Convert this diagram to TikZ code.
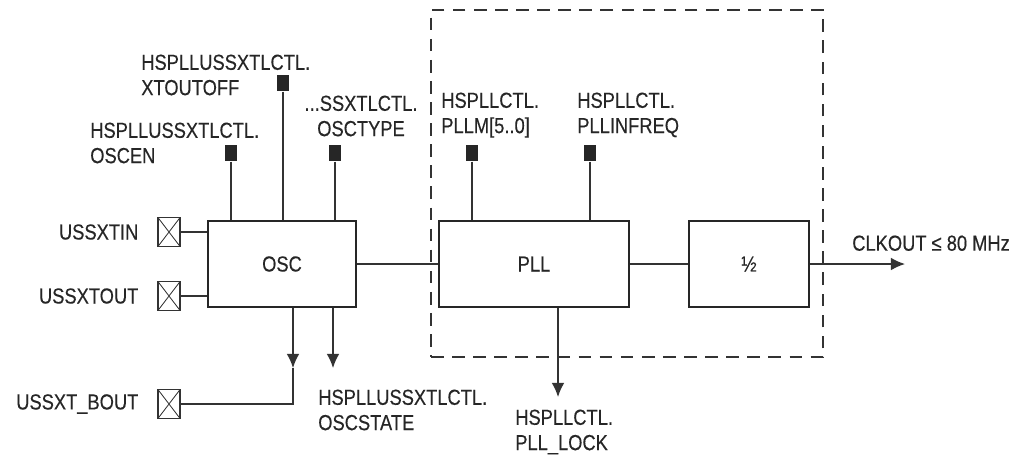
\documentclass[tikz,border=0pt]{standalone}
\usepackage{fontspec}
\setmainfont{Liberation Sans}[FakeStretch=0.84, FakeBold=0.3]
\usetikzlibrary{positioning, arrows.meta}

\begin{document}
\begin{tikzpicture}[
    x=0.025cm, y=-0.025cm,
    every node/.style={font=\fontsize{15.5}{18}\selectfont, text=black!85},
    block/.style={draw=black!85, line width=1.5pt, minimum height=2.15cm, inner sep=0pt},
    padbox/.style={draw=black!80, line width=0.8pt, minimum width=0.55cm, minimum height=0.72cm, inner sep=0pt,
        path picture={\draw[line width=0.6pt, black!80] (path picture bounding box.south west) -- (path picture bounding box.north east)
            (path picture bounding box.north west) -- (path picture bounding box.south east);}},
    ctrl/.style={fill=black!85, minimum width=0.32cm, minimum height=0.42cm, inner sep=0pt},
    lbl/.style={inner sep=0pt, align=left},
    wire/.style={line width=1pt, draw=black!80},
    signal/.style={wire, -{Latex[length=10pt, width=9pt]}},
    pllgroup/.style={draw=black!80, line width=1pt, dash pattern=on 9pt off 6pt, inner sep=0pt},
]
    \useasboundingbox (0,0) rectangle (1017,456);

    % PLL group (dashed)
    \node[pllgroup, minimum width=9.8cm, minimum height=8.675cm] (grp) at (627,183.5) {};

    % Blocks
    \node[block, minimum width=3.7cm] (osc) at (282,264) {OSC};
    \node[block, minimum width=4.75cm] (pll) at (534,264) {PLL};
    \node[block, minimum width=3cm] (half) at (749,264) {½};

    % Pads
    \node[padbox] (xin) at (169,232) {};
    \node[padbox] (xout) at (169,296) {};
    \node[padbox] (bout) at (169,404) {};
    \node[lbl, left=0.47cm of xin] (lxin) {USSXTIN};
    \node[lbl, left=0.47cm of xout] (lxout) {USSXTOUT};
    \node[lbl, left=0.47cm of bout] (lbout) {USSXT\_BOUT};

    % Control bits
    \node[ctrl] (cen) at (231,153) {};
    \node[ctrl] (coff) at (283,83) {};
    \node[ctrl] (ctype) at (335,153) {};
    \node[ctrl] (cpllm) at (472,153) {};
    \node[ctrl] (cinfreq) at (590,153) {};

    \node[lbl, anchor=north west] (lcen) at (90,122.3) {HSPLLUSSXTLCTL.\\OSCEN};
    \node[lbl, anchor=north west] (lcoff) at (141,54.3) {HSPLLUSSXTLCTL.\\XTOUTOFF};
    \node[lbl, align=center, anchor=north] (lctype) at (361,95.3) {...SSXTLCTL.\\OSCTYPE};
    \node[lbl, anchor=north west] (lpllm) at (441,92.3) {HSPLLCTL.\\PLLM[5..0]};
    \node[lbl, anchor=north west] (linfreq) at (577,92.3) {HSPLLCTL.\\PLLINFREQ};

    % Outputs
    \coordinate (bj) at (293,368);
    \coordinate (st) at (333,368);
    \coordinate (lock) at (558,397);
    \coordinate (clk) at (905,264);
    \node[lbl, anchor=north west] (lstate) at (318,389.3) {HSPLLUSSXTLCTL.\\OSCSTATE};
    \node[lbl, anchor=north west] (llock) at (515,409.3) {HSPLLCTL.\\PLL\_LOCK};
    \node[lbl, anchor=base west] (lclk) at (852,250.7) {CLKOUT ≤ 80 MHz};

    % Wires
    \draw[wire] (xin) -- (xin -| osc.west);
    \draw[wire] (xout) -- (xout -| osc.west);
    \draw[wire] (bout) -| (bj);
    \draw[signal] (osc.south -| bj) -- (bj);
    \draw[signal] (osc.south -| st) -- (st);

    \draw[wire] (cen) -- (cen |- osc.north);
    \draw[wire] (coff) -- (coff |- osc.north);
    \draw[wire] (ctype) -- (ctype |- osc.north);
    \draw[wire] (cpllm) -- (cpllm |- pll.north);
    \draw[wire] (cinfreq) -- (cinfreq |- pll.north);

    \draw[wire] (osc) -- (pll);
    \draw[wire] (pll) -- (half);
    \draw[signal] (half) -- (clk);
    \draw[signal] (pll.south -| lock) -- (lock);

\end{tikzpicture}
\end{document}
